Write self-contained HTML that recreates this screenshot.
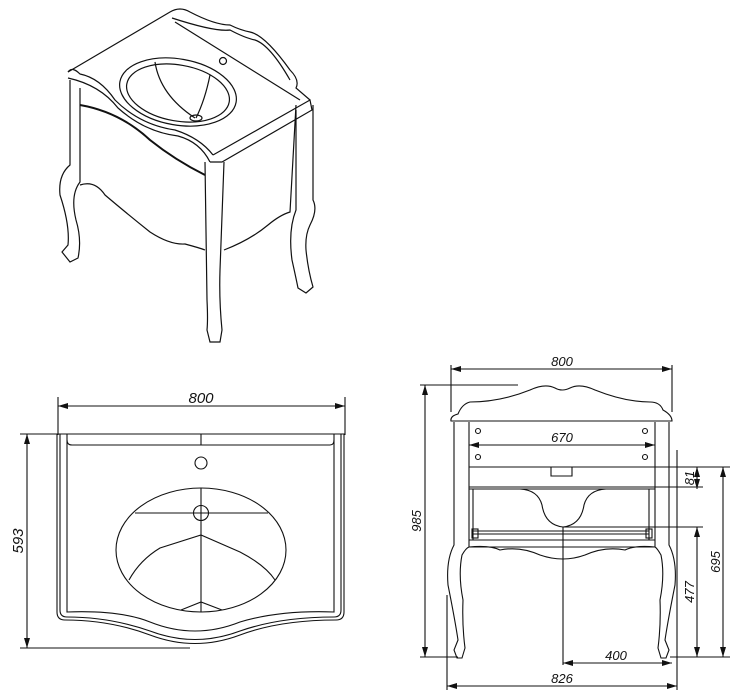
<!DOCTYPE html>
<html><head><style>html,body{margin:0;padding:0;background:#fff}svg{display:block}</style></head><body>
<svg width="738" height="698" viewBox="0 0 738 698" xmlns="http://www.w3.org/2000/svg" fill="none" stroke="#111" stroke-width="1.1" font-family="Liberation Sans, sans-serif">
<defs><marker id="a" viewBox="0 0 10 6" refX="10" refY="3" markerWidth="10" markerHeight="6" orient="auto-start-reverse" markerUnits="userSpaceOnUse"><path d="M0,0L10,3L0,6z" fill="#111" stroke="none"/></marker></defs>

<!-- ISO VIEW -->
<g stroke-width="1.2">
<path d="M68,72 L170,12 Q180,6 190,12 Q215,25 230,25 Q240,30 250,32 Q265,35 290,70 Q300,80 296,88 L310,100"/>
<path d="M172,18 Q215,32 230,30 Q245,38 255,40 Q270,45 290,80"/>
<path d="M175,22 L300,100"/>
<path d="M68,72 Q72,66 80,74 Q100,78 115,100 Q140,125 175,130 Q200,138 213,155"/>
<path d="M68,78 Q100,85 118,108 Q145,132 178,136 Q200,142 210,162"/>
<path d="M213,155 L310,100 L312,110 L222,162 L210,162"/>
<ellipse cx="178" cy="92" rx="59" ry="33" transform="rotate(10 178 92)"/>
<ellipse cx="178" cy="93" rx="52" ry="28" transform="rotate(10 178 93)"/>
<path d="M155,62 Q160,95 195,118 M210,75 Q205,100 196,118"/>
<ellipse cx="196" cy="118" rx="6" ry="3"/>
<circle cx="223" cy="61" r="3.5"/>
<!-- legs -->
<path d="M70,80 L70,165 Q58,175 60,195 Q70,225 68,245 L62,252 L70,262 L78,258 Q82,240 76,220 Q70,195 80,182 L80,88"/>
<path d="M80,105 Q120,112 150,140 Q175,160 205,175" stroke-width="2"/>
<path d="M80,185 Q95,180 105,195 Q125,212 150,232 Q170,245 185,244 Q200,248 205,250"/>
<path d="M205,162 L207,300 Q208,320 207,330 L210,342 L220,342 L222,330 Q219,300 220,270 L224,162"/>
<path d="M224,250 Q250,240 268,225 Q280,215 290,212 L296,105"/>
<path d="M296,110 L296,210 Q288,230 292,260 Q296,278 298,288 L306,293 L313,287 Q308,270 306,250 Q305,235 310,225 Q318,210 313,200 L313,105"/>
</g>

<!-- TOP VIEW -->
<g>
<line x1="58" y1="397" x2="58" y2="435"/><line x1="345" y1="397" x2="345" y2="435"/>
<line x1="58" y1="406" x2="345" y2="406" marker-start="url(#a)" marker-end="url(#a)"/>
<text x="201" y="403" font-size="15" font-style="italic" fill="#111" stroke="none" text-anchor="middle">800</text>
<line x1="20" y1="434" x2="345" y2="434"/>
<path d="M57,434 L57,612 Q57,620 65,620 Q110,620 150,635 Q195,652 240,635 Q280,620 336,620 Q344,620 344,612 L344,434"/>
<path d="M60,434 L60,610 Q60,617 67,617 Q110,617 150,631 Q195,648 240,631 Q280,617 334,617 Q341,617 341,610 L341,434"/>
<path d="M67,434 L67,612 Q120,610 150,622 Q195,640 240,622 Q280,610 334,612 L334,434"/>
<path d="M67,440 Q67,445 72,445 L330,445 Q334,445 334,440"/>
<line x1="201" y1="434" x2="201" y2="445"/>
<circle cx="201" cy="463" r="6"/>
<ellipse cx="201" cy="550" rx="85" ry="62"/>
<circle cx="201" cy="513" r="7.5"/>
<line x1="135" y1="513" x2="268" y2="513"/><line x1="201" y1="488" x2="201" y2="612"/>
<path d="M129,580 Q140,560 160,548 L201,535 L240,552 Q265,565 275,580"/>
<path d="M181,610 L201,602 L222,610"/>
<line x1="20" y1="648" x2="190" y2="648"/>
<line x1="27" y1="434" x2="27" y2="648" marker-start="url(#a)" marker-end="url(#a)"/>
<text transform="translate(23,541) rotate(-90)" font-size="15" font-style="italic" fill="#111" stroke="none" text-anchor="middle">593</text>
</g>

<!-- FRONT VIEW -->
<g>
<line x1="451" y1="365" x2="451" y2="412"/><line x1="672" y1="365" x2="672" y2="412"/>
<line x1="451" y1="369" x2="672" y2="369" marker-start="url(#a)" marker-end="url(#a)"/>
<text x="562" y="366" font-size="13" font-style="italic" fill="#111" stroke="none" text-anchor="middle">800</text>
<line x1="420" y1="385" x2="518" y2="385"/><line x1="420" y1="657" x2="458" y2="657"/>
<line x1="425" y1="385" x2="425" y2="657" marker-start="url(#a)" marker-end="url(#a)"/>
<text transform="translate(421,521) rotate(-90)" font-size="13" font-style="italic" fill="#111" stroke="none" text-anchor="middle">985</text>
<path d="M451,421 Q450,416 458,414 Q462,404 470,402 Q500,402 530,390 Q545,383 555,388 Q562,392 570,388 Q580,383 595,390 Q625,402 650,402 Q660,402 663,410 Q672,415 672,421 Z"/>
<line x1="469" y1="422" x2="469" y2="547"/><line x1="655" y1="422" x2="655" y2="547"/>
<circle cx="478" cy="431" r="2.5"/><circle cx="645" cy="431" r="2.5"/><circle cx="478" cy="457" r="2.5"/><circle cx="645" cy="457" r="2.5"/>
<line x1="469" y1="445" x2="655" y2="445" marker-start="url(#a)" marker-end="url(#a)"/>
<text x="562" y="442" font-size="13" font-style="italic" fill="#111" stroke="none" text-anchor="middle">670</text>
<line x1="469" y1="467" x2="730" y2="467"/>
<path d="M551,467 L551,476 L572,476 L572,467"/>
<line x1="469" y1="487" x2="703" y2="487"/><line x1="469" y1="489" x2="655" y2="489"/>
<line x1="473" y1="489" x2="473" y2="540"/><line x1="649" y1="489" x2="649" y2="540"/>
<path d="M520,489 Q538,490 542,505 Q545,525 563,527 Q581,525 584,505 Q588,490 606,489"/>
<line x1="473" y1="531" x2="649" y2="531"/><line x1="473" y1="534" x2="649" y2="534"/><line x1="469" y1="540" x2="655" y2="540"/>
<rect x="472" y="529" width="6" height="9"/><rect x="646" y="529" width="6" height="9"/>
<line x1="469" y1="547" x2="655" y2="547"/>
<path d="M469,547 Q490,545 500,550 Q520,546 540,555 Q563,563 585,555 Q605,546 625,550 Q635,545 655,547"/>
<path d="M454,422 L454,545 Q446,560 448,585 Q455,620 458,640 L454,650 L457,658 L462,658 L465,648 Q462,625 463,600 Q458,575 462,555 Q466,548 469,547"/>
<path d="M669,422 L669,545 Q677,560 675,585 Q668,620 665,640 L669,650 L666,658 L661,658 L658,648 Q661,625 660,600 Q665,575 661,555 Q657,548 655,547"/>
<line x1="697" y1="467" x2="697" y2="489" marker-start="url(#a)" marker-end="url(#a)"/>
<text transform="translate(694,478) rotate(-90)" font-size="13" font-style="italic" fill="#111" stroke="none" text-anchor="middle">81</text>
<line x1="723" y1="467" x2="723" y2="657" marker-start="url(#a)" marker-end="url(#a)"/>
<text transform="translate(720,562) rotate(-90)" font-size="13" font-style="italic" fill="#111" stroke="none" text-anchor="middle">695</text>
<line x1="563" y1="527" x2="703" y2="527"/>
<line x1="697" y1="527" x2="697" y2="657" marker-start="url(#a)" marker-end="url(#a)"/>
<text transform="translate(694,592) rotate(-90)" font-size="13" font-style="italic" fill="#111" stroke="none" text-anchor="middle">477</text>
<line x1="670" y1="657" x2="730" y2="657"/>
<line x1="563" y1="527" x2="563" y2="665"/>
<line x1="563" y1="663" x2="672" y2="663" marker-start="url(#a)" marker-end="url(#a)"/>
<text x="616" y="660" font-size="13" font-style="italic" fill="#111" stroke="none" text-anchor="middle">400</text>
<line x1="447" y1="595" x2="447" y2="690"/><line x1="677" y1="450" x2="677" y2="690"/>
<line x1="447" y1="686" x2="677" y2="686" marker-start="url(#a)" marker-end="url(#a)"/>
<text x="562" y="683" font-size="13" font-style="italic" fill="#111" stroke="none" text-anchor="middle">826</text>
</g>
</svg>
</body></html>
